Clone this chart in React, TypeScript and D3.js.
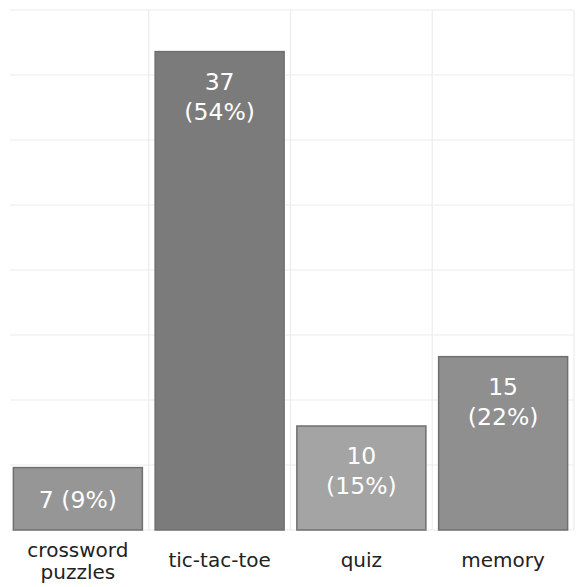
import React from "react";
import * as d3 from "d3";

// chart data
const categories = ["crossword\npuzzles", "tic-tac-toe", "quiz", "memory"];
const counts = [7, 37, 10, 15];
const percents = [9, 54, 15, 22];
const barFills = ["#969696", "#7b7b7b", "#a4a4a4", "#8f8f8f"];

const W = 579;
const H = 587;
const margin = { top: 10, right: 5, bottom: 57, left: 7 };

const App = () => {
  const x = d3
    .scaleBand<string>()
    .domain(categories)
    .range([margin.left, W - margin.right])
    .paddingInner(0.09)
    .paddingOuter(0.045);

  const y = d3
    .scaleLinear()
    .domain([2.5, 40])
    .range([H - margin.bottom, margin.top]);

  // 8 unlabeled grid intervals across the value domain
  const [d0, d1] = y.domain();
  const gridVals = d3.range(0, 9).map((i) => d0 + ((d1 - d0) * i) / 8);
  const step = x.step();
  const pad = (step - x.bandwidth()) / 2;

  const font = "'DejaVu Sans', Verdana, sans-serif";

  return (
    <svg
      width={W}
      height={H}
      style={{ position: "absolute", left: 0, top: 0, background: "#fff" }}
      fontFamily={font}
    >
      {/* grid */}
      <g stroke="#ececec" strokeWidth={1.2}>
        {gridVals.map((v, i) => (
          <line key={"h" + i} x1={10} x2={x.range()[1]} y1={y(v)} y2={y(v)} />
        ))}
        {categories.map((c, i) => {
          const gx = (x(c) as number) + x.bandwidth() + pad;
          return (
            <line key={"v" + i} x1={gx} x2={gx} y1={margin.top} y2={y(d0)} />
          );
        })}
      </g>

      {/* bars */}
      {categories.map((c, i) => {
        const bx = x(c) as number;
        const top = y(counts[i]);
        const h = y(d0) - top;
        const cx = bx + x.bandwidth() / 2;
        const twoLine = h > 90;
        return (
          <g key={c}>
            <rect
              x={bx}
              y={top}
              width={x.bandwidth()}
              height={h}
              fill={barFills[i]}
              stroke="#6f6f6f"
              strokeWidth={1.5}
            />
            {twoLine ? (
              <text
                x={cx}
                y={top + 38}
                fill="#fff"
                fontSize={23.5}
                textAnchor="middle"
              >
                <tspan x={cx}>{counts[i]}</tspan>
                <tspan x={cx} dy={30}>{`(${percents[i]}%)`}</tspan>
              </text>
            ) : (
              <text
                x={cx}
                y={top + h / 2 + 9}
                fill="#fff"
                fontSize={23.5}
                textAnchor="middle"
              >
                {`${counts[i]} (${percents[i]}%)`}
              </text>
            )}
          </g>
        );
      })}

      {/* category labels */}
      {categories.map((c) => {
        const cx = (x(c) as number) + x.bandwidth() / 2;
        const lines = c.split("\n");
        const y0 = lines.length > 1 ? 557 : 567;
        return (
          <text key={"l" + c} fill="#222" fontSize={20} textAnchor="middle">
            {lines.map((ln, j) => (
              <tspan key={j} x={cx} y={y0 + j * 22}>
                {ln}
              </tspan>
            ))}
          </text>
        );
      })}
    </svg>
  );
};

export default App;
